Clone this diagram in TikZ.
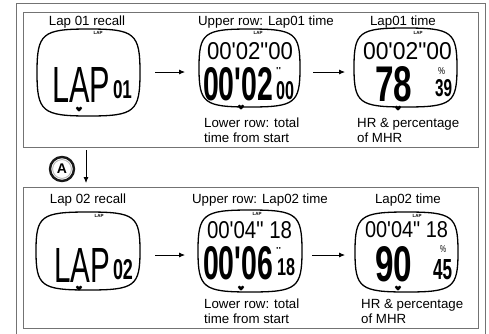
\documentclass[tikz,border=0pt]{standalone}
\usepackage{fontspec}
\setmainfont{Liberation Sans}
\newfontfamily\lcdfont{Liberation Sans}
\usetikzlibrary{arrows.meta,calc}

\tikzset{
  frame/.style={draw=black!55, line width=0.9pt},
  heading/.style={font=\fontsize{13.3}{15}\selectfont, inner sep=0, anchor=base},
  note/.style={font=\fontsize{13.3}{14.5}\selectfont, inner sep=0, anchor=base west, align=left},
  lcdnode/.style={inner sep=0, outer sep=0, anchor=south west},
  tinylap/.style={font=\bfseries\fontsize{4.5}{5}\selectfont, inner sep=0},
  watchbox/.style={inner sep=0, outer sep=0},
  watchline/.style={line width=1.3pt},
  conn/.style={draw, line width=0.8pt, -{Latex[length=6pt,width=5pt]}},
}

\newcommand\squircle[1]{%
  \draw[watchline] (#1.north)
    .. controls ($(#1.north)!0.9!(#1.north east)$) and ($(#1.east)!0.9!(#1.north east)$) .. (#1.east)
    .. controls ($(#1.east)!0.9!(#1.south east)$) and ($(#1.south)!0.9!(#1.south east)$) .. (#1.south)
    .. controls ($(#1.south)!0.9!(#1.south west)$) and ($(#1.west)!0.9!(#1.south west)$) .. (#1.west)
    .. controls ($(#1.west)!0.9!(#1.north west)$) and ($(#1.north)!0.9!(#1.north west)$) .. (#1.north) -- cycle;}

% bold LCD text
\newcommand\lcd[6]{%
  \pgfmathsetlengthmacro\lcdw{#4-#2}\pgfmathsetlengthmacro\lcdh{#5-#3}%
  \node[lcdnode] (#1) at (#2,#5) {\resizebox{\lcdw}{\lcdh}{\lcdfont\bfseries #6}};}
% regular-weight LCD text
\newcommand\lcdr[6]{%
  \pgfmathsetlengthmacro\lcdw{#4-#2}\pgfmathsetlengthmacro\lcdh{#5-#3}%
  \node[lcdnode] (#1) at (#2,#5) {\resizebox{\lcdw}{\lcdh}{\lcdfont #6}};}

\newcommand\heartat[2]{%
  \fill[shift={(#1,#2)}] (0,2.6) .. controls (-1,1.6) and (-3.2,0.2) .. (-3.2,-1)
    .. controls (-3.2,-2.6) and (-0.6,-3) .. (0,-1.3)
    .. controls (0.6,-3) and (3.2,-2.6) .. (3.2,-1)
    .. controls (3.2,0.2) and (1,1.6) .. cycle;}

\begin{document}
\begin{tikzpicture}[x=1pt,y=-1pt]
\useasboundingbox (0,0) rectangle (489,333);

% frames
\draw[frame] (16,345) -- (16,3) -- (485,3) -- (485,345);
\draw[frame] (23,12) rectangle (478,147);
\draw[frame] (23,187) rectangle (478,328);

% ---------- Row 1 ----------
\node[heading] (h11) at (87,25) {Lap 01 recall};
\node[heading] (h12) at (266,25) {Upper row: Lap01 time};
\node[heading] (h13) at (403,25) {Lap01 time};

\node[watchbox, minimum width=103pt, minimum height=87pt] (w1) at (88.5,72.5) {};
\node[watchbox, minimum width=101pt, minimum height=78pt] (w2) at (249.5,68) {};
\node[watchbox, minimum width=103pt, minimum height=79pt] (w3) at (405.5,67.5) {};
\squircle{w1}\squircle{w2}\squircle{w3}

\node[tinylap] (l1) at (98,33) {LAP};
\node[tinylap] (l2) at (258,33) {LAP};
\node[tinylap] (l3) at (418,33) {LAP};

\lcdr{t1a}{52}{67}{110}{102}{LAP}
\lcd{t1b}{113}{81}{132}{99}{01}

\lcdr{t2a}{207}{43}{293}{60}{00'02"00}
\lcd{t2b}{203}{68}{273}{101}{00'02}
\lcdr{t2c}{276}{67}{281}{74}{"}
\lcd{t2d}{276}{82}{294}{100}{00}

\lcdr{t3a}{363}{43}{452}{60}{00'02"00}
\lcd{t3b}{375}{67}{412}{102}{78}
\lcdr{t3c}{438}{68}{445}{75}{\%}
\lcd{t3d}{435}{80}{452}{97}{39}

\heartat{79}{109}
\heartat{241}{107}
\heartat{398}{108}

\node[note] (n12) at (204,142) {Lower row: total\\time from start};
\node[note] (n13) at (357,142) {HR \& percentage\\of MHR};

\coordinate (a1s) at (155,72); \coordinate (a1e) at (185,72);
\coordinate (a2s) at (313,72); \coordinate (a2e) at (345,72);
\draw[conn] (a1s) -- (a1e);
\draw[conn] (a2s) -- (a2e);

% ---------- between rows ----------
\node[circle, draw=black!90, line width=2.4pt, minimum size=24pt, inner sep=0,
      font=\bfseries\fontsize{14}{14}\selectfont] (A) at (62,169) {A};
\draw[gray!55, line width=0.9pt] (A.center) circle (9.4pt);
\coordinate (ds) at (86,150); \coordinate (de) at (86,183);
\draw[conn] (ds) -- (de);

% ---------- Row 2 ----------
\node[heading] (h21) at (88,203) {Lap 02 recall};
\node[heading] (h22) at (260,203) {Upper row: Lap02 time};
\node[heading] (h23) at (408,203) {Lap02 time};

\node[watchbox, minimum width=104pt, minimum height=78pt] (w4) at (88,251) {};
\node[watchbox, minimum width=104pt, minimum height=82pt] (w5) at (250,251) {};
\node[watchbox, minimum width=103pt, minimum height=80pt] (w6) at (406.5,252) {};
\squircle{w4}\squircle{w5}\squircle{w6}

\node[tinylap] (l4) at (99,216) {LAP};
\node[tinylap] (l5) at (257,214) {LAP};
\node[tinylap] (l6) at (417,216) {LAP};

\lcdr{t4a}{54}{248}{110}{282}{LAP}
\lcd{t4b}{113}{260}{133}{280}{02}

\lcdr{t5a}{207}{222}{292}{239}{00'04" 18}
\lcd{t5b}{203}{247}{273}{280}{00'06}
\lcdr{t5c}{276}{247}{281}{253}{"}
\lcd{t5d}{277}{259}{295}{276}{18}

\lcdr{t6a}{365}{222}{448}{238}{00'04" 18}
\lcd{t6b}{375}{247}{412}{282}{90}
\lcdr{t6c}{440}{246}{446}{253}{\%}
\lcd{t6d}{433}{260}{452}{280}{45}

\heartat{79}{288}
\heartat{241}{288}
\heartat{398}{288}

\node[note] (n22) at (204,323) {Lower row: total\\time from start};
\node[note] (n23) at (361,323) {HR \& percentage\\of MHR};

\coordinate (b1s) at (155,255); \coordinate (b1e) at (185,255);
\coordinate (b2s) at (312,255); \coordinate (b2e) at (345,255);
\draw[conn] (b1s) -- (b1e);
\draw[conn] (b2s) -- (b2e);
\end{tikzpicture}
\end{document}
